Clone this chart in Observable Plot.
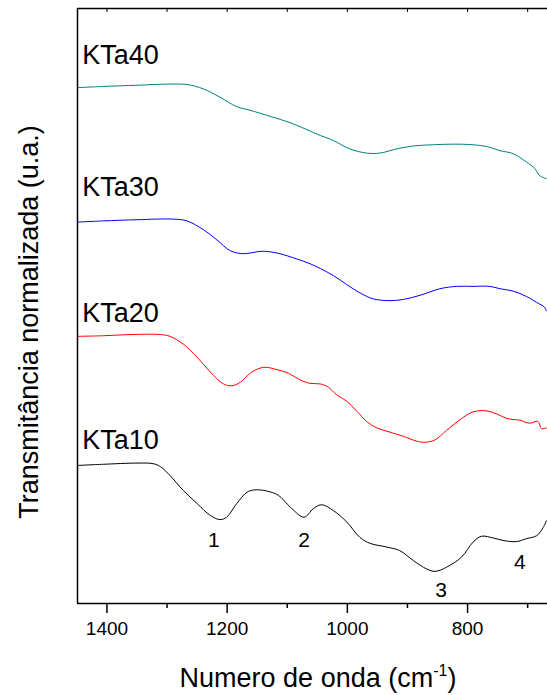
<!DOCTYPE html>
<html>
<head>
<meta charset="utf-8">
<script src="https://cdn.jsdelivr.net/npm/d3@7"></script>
<script src="https://cdn.jsdelivr.net/npm/@observablehq/plot@0.6"></script>
<style>
  html, body { margin: 0; padding: 0; background: #fff; overflow: hidden; }
  #chart svg { display: block; }
</style>
</head>
<body>
<div id="chart"></div>
<script>
// ---- Data (wavenumber in cm^-1, normalized transmittance with vertical offsets, a.u.) ----
const xDomain = [1449, 667];
const majorTicks = [1400, 1200, 1000, 800];
const minorTicks = [1300, 1100, 900, 700];
const xTitle = "Numero de onda (cm";
const xTitleSup = "-1";
const yTitle = "Transmitância normalizada (u.a.)";

const kta10_wn = [1449, 1406, 1350, 1323, 1311, 1295, 1273, 1250, 1228, 1212, 1201, 1184, 1167, 1154, 1134, 1115, 1095, 1072, 1057, 1043, 1023, 1001, 979, 962, 935, 913, 890, 868, 854, 835, 810, 791, 777, 757, 741, 719, 702, 685, 674, 669];
const kta10_t  = [23.2, 23.4, 23.6, 23.5, 23.0, 21.5, 19.0, 16.8, 14.8, 14.1, 14.5, 16.8, 18.7, 19.1, 18.9, 18.2, 16.2, 14.5, 15.9, 16.6, 15.6, 13.7, 11.1, 10.1, 9.5, 8.9, 7.2, 5.8, 5.4, 6.1, 7.8, 10.3, 11.3, 11.0, 10.6, 10.4, 10.9, 11.4, 12.8, 13.9];

const kta20_wn = [1449, 1406, 1361, 1311, 1295, 1273, 1250, 1228, 1206, 1192, 1178, 1159, 1139, 1117, 1098, 1079, 1062, 1045, 1032, 1018, 1001, 985, 968, 951, 929, 907, 885, 871, 854, 835, 807, 791, 771, 752, 735, 713, 697, 683, 677, 669];
const kta20_t  = [44.9, 45.0, 45.2, 45.2, 44.9, 43.6, 41.4, 38.9, 36.9, 36.6, 37.2, 38.9, 39.7, 39.3, 38.7, 37.6, 37.0, 36.9, 36.4, 35.1, 34.0, 32.4, 30.6, 29.5, 28.8, 28.1, 27.3, 27.1, 27.5, 29.1, 31.3, 32.2, 32.4, 31.9, 31.1, 30.8, 30.3, 30.6, 29.4, 29.5];

const kta30_wn = [1449, 1406, 1350, 1289, 1267, 1239, 1217, 1195, 1176, 1162, 1142, 1117, 1084, 1062, 1045, 1023, 1001, 979, 957, 929, 907, 879, 846, 818, 791, 763, 746, 724, 702, 685, 672, 669];
const kta30_t  = [64.1, 64.3, 64.5, 64.6, 64.3, 62.8, 61.1, 59.3, 58.8, 58.9, 59.2, 58.9, 57.9, 57.1, 56.3, 55.1, 53.6, 52.2, 51.2, 50.9, 51.1, 51.8, 52.9, 53.3, 53.3, 53.3, 52.9, 52.5, 51.6, 50.6, 49.8, 49.2];

const kta40_wn = [1449, 1406, 1350, 1295, 1265, 1240, 1212, 1184, 1162, 1129, 1095, 1062, 1051, 1023, 996, 968, 946, 918, 890, 857, 824, 791, 768, 746, 724, 702, 688, 680, 669];
const kta40_t  = [86.7, 86.9, 87.1, 87.3, 87.2, 86.5, 85.1, 83.5, 82.9, 81.9, 80.8, 79.4, 78.9, 77.8, 76.4, 75.7, 75.7, 76.4, 76.9, 77.1, 77.2, 77.1, 76.8, 76.1, 75.6, 74.2, 73.1, 71.9, 71.4];

const seriesNames  = ["KTa10", "KTa20", "KTa30", "KTa40"];
const seriesColors = ["#000000", "#ff0000", "#0000ff", "#008080"];
const seriesLabelWn = [1441, 1441, 1441, 1441];
const seriesLabelT  = [27.4, 48.7, 69.9, 92.1];

const bandNames = ["1", "2", "3", "4"];
const bandWn    = [1222, 1072, 844, 713];
const bandT     = [10.6, 10.6, 2.2, 6.9];

// ---- Build tables ----
const wnArrays = [kta10_wn, kta20_wn, kta30_wn, kta40_wn];
const tArrays  = [kta10_t, kta20_t, kta30_t, kta40_t];
const spectra = seriesNames.flatMap((name, i) =>
  wnArrays[i].map((wn, j) => ({series: name, wn, t: tArrays[i][j]})));
const seriesLabels = seriesNames.map((name, i) => ({name, wn: seriesLabelWn[i], t: seriesLabelT[i]}));
const bands = bandNames.map((name, i) => ({name, wn: bandWn[i], t: bandT[i]}));

const font = "Liberation Sans, Arial, Helvetica, sans-serif";

const plot = Plot.plot({
  width: 547,
  height: 695,
  marginLeft: 77,
  marginRight: 0,
  marginTop: 8,
  marginBottom: 92,
  style: {fontFamily: font, background: "#fff", overflow: "hidden"},
  x: {domain: xDomain},
  y: {domain: [0, 100]},
  color: {domain: seriesNames, range: seriesColors},
  marks: [
    Plot.line(spectra, {x: "wn", y: "t", z: "series", stroke: "series", strokeWidth: 1, curve: "catmull-rom", clip: true}),
    Plot.text(seriesLabels, {x: "wn", y: "t", text: "name", textAnchor: "start", fontSize: 27, fill: "#000"}),
    Plot.text(bands, {x: "wn", y: "t", text: "name", fontSize: 21, fill: "#000"}),
    Plot.axisX({ticks: majorTicks, tickSize: 10, tickPadding: 8, fontSize: 19, tickFormat: d => String(d), label: null, strokeWidth: 1.5, fill: "#000", color: "#000"}),
    Plot.axisX({ticks: minorTicks, tickSize: 5, tickFormat: () => "", label: null, strokeWidth: 1.5}),
    Plot.axisX({anchor: "top", ticks: majorTicks.concat(minorTicks), tickSize: -3, tickFormat: () => "", label: null, strokeWidth: 1}),
    Plot.axisY({ticks: [], label: null}),
    Plot.ruleX([xDomain[0]], {stroke: "#000", strokeWidth: 1.5}),
    Plot.ruleY([0], {stroke: "#000", strokeWidth: 1.5}),
    Plot.ruleY([100], {stroke: "#000", strokeWidth: 1.5})
  ]
});

document.getElementById("chart").appendChild(plot);

// Axis titles (real text, with superscript)
const svg = d3.select(plot);
const xt = svg.append("text")
  .attr("x", 318).attr("y", 687)
  .attr("text-anchor", "middle")
  .style("font-family", font).style("font-size", "27px").attr("fill", "#000");
xt.append("tspan").text(xTitle);
xt.append("tspan").attr("dy", -11).style("font-size", "16px").text(xTitleSup);
xt.append("tspan").attr("dy", 11).text(")");

svg.append("text")
  .attr("transform", "translate(38,322) rotate(-90)")
  .attr("text-anchor", "middle")
  .style("font-family", font).style("font-size", "27px").attr("fill", "#000")
  .text(yTitle);
</script>
</body>
</html>
